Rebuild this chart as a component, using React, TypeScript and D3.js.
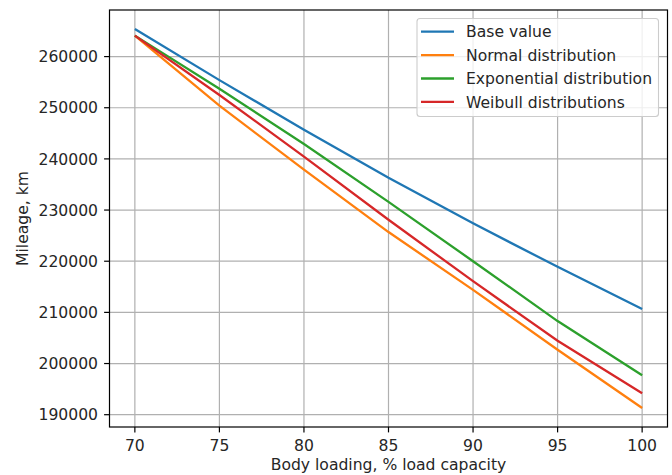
import React from "react";
import * as d3 from "d3";

const loading = [70, 75, 80, 85, 90, 95, 100];
const baseValue = [265400, 255400, 245700, 236300, 227400, 218900, 210650];
const normalDist = [264100, 250400, 237900, 225700, 214400, 202700, 191300];
const exponentialDist = [264100, 253700, 242900, 231600, 220000, 208300, 197700];
const weibullDist = [264100, 252500, 240450, 228100, 216100, 204450, 194200];

const seriesNames = ["Base value", "Normal distribution", "Exponential distribution", "Weibull distributions"];
const seriesColors = ["#1f77b4", "#ff7f0e", "#2ca02c", "#d62728"];
const xTicks = [70, 75, 80, 85, 90, 95, 100];
const yTicks = [190000, 200000, 210000, 220000, 230000, 240000, 250000, 260000];

const W = 672;
const H = 475;
const left = 109.5;
const right = 667.5;
const top = 10;
const bottom = 427;
const FONT = "DejaVu Sans, sans-serif";
const FS = 15.6;

export default function App() {
  const series = [baseValue, normalDist, exponentialDist, weibullDist];
  const allY = series.flat();
  const [ymin, ymax] = d3.extent(allY) as [number, number];
  const ypad = (ymax - ymin) * 0.05;
  const [xmin, xmax] = d3.extent(loading) as [number, number];
  const xpad = (xmax - xmin) * 0.05;
  const x = d3.scaleLinear().domain([xmin - xpad, xmax + xpad]).range([left, right]);
  const y = d3.scaleLinear().domain([ymin - ypad, ymax + ypad]).range([bottom, top]);
  const line = d3
    .line<number>()
    .x((_, i) => x(loading[i]))
    .y((d) => y(d));

  const legX = 417;
  const legY = 18.5;
  const legW = 241.5;
  const legH = 98;
  const rowH = 23.4;

  return (
    <svg
      width={W}
      height={H}
      style={{ position: "absolute", left: 0, top: 0, background: "#fff" }}
      fontFamily={FONT}
    >
      <rect x={0} y={0} width={W} height={H} fill="#fff" />
      {/* grid */}
      {xTicks.map((t) => (
        <line key={"gx" + t} x1={x(t)} x2={x(t)} y1={top} y2={bottom} stroke="#b0b0b0" strokeWidth={1.2} />
      ))}
      {yTicks.map((t) => (
        <line key={"gy" + t} x1={left} x2={right} y1={y(t)} y2={y(t)} stroke="#b0b0b0" strokeWidth={1.2} />
      ))}
      {/* lines */}
      {series.map((s, i) => (
        <path key={"s" + i} d={line(s) || ""} fill="none" stroke={seriesColors[i]} strokeWidth={2.3} />
      ))}
      {/* spines */}
      <rect x={left} y={top} width={right - left} height={bottom - top} fill="none" stroke="#000" strokeWidth={1.2} />
      {/* x ticks */}
      {xTicks.map((t) => (
        <g key={"xt" + t}>
          <line x1={x(t)} x2={x(t)} y1={bottom} y2={bottom + 5.4} stroke="#000" strokeWidth={1.2} />
          <text x={x(t)} y={bottom + 24} textAnchor="middle" fontSize={FS} fill="#262626">
            {t}
          </text>
        </g>
      ))}
      {/* y ticks */}
      {yTicks.map((t) => (
        <g key={"yt" + t}>
          <line x1={left - 5.4} x2={left} y1={y(t)} y2={y(t)} stroke="#000" strokeWidth={1.2} />
          <text x={left - 11.5} y={y(t)} dy="0.36em" textAnchor="end" fontSize={FS} fill="#262626">
            {t}
          </text>
        </g>
      ))}
      {/* axis labels */}
      <text x={(left + right) / 2} y={469.5} textAnchor="middle" fontSize={FS} fill="#262626">
        Body loading, % load capacity
      </text>
      <text
        transform={`translate(27.5, ${(top + bottom) / 2}) rotate(-90)`}
        textAnchor="middle"
        fontSize={FS}
        fill="#262626"
      >
        Mileage, km
      </text>
      {/* legend */}
      <rect x={legX} y={legY} width={legW} height={legH} rx={3} ry={3} fill="#fff" fillOpacity={0.8} stroke="#cccccc" strokeWidth={1.1} />
      {seriesNames.map((n, i) => (
        <g key={"lg" + i}>
          <line
            x1={legX + 4}
            x2={legX + 37}
            y1={legY + 13.2 + i * rowH}
            y2={legY + 13.2 + i * rowH}
            stroke={seriesColors[i]}
            strokeWidth={2.3}
          />
          <text x={legX + 49} y={legY + 13.2 + i * rowH} dy="0.36em" fontSize={FS} fill="#262626">
            {n}
          </text>
        </g>
      ))}
    </svg>
  );
}
